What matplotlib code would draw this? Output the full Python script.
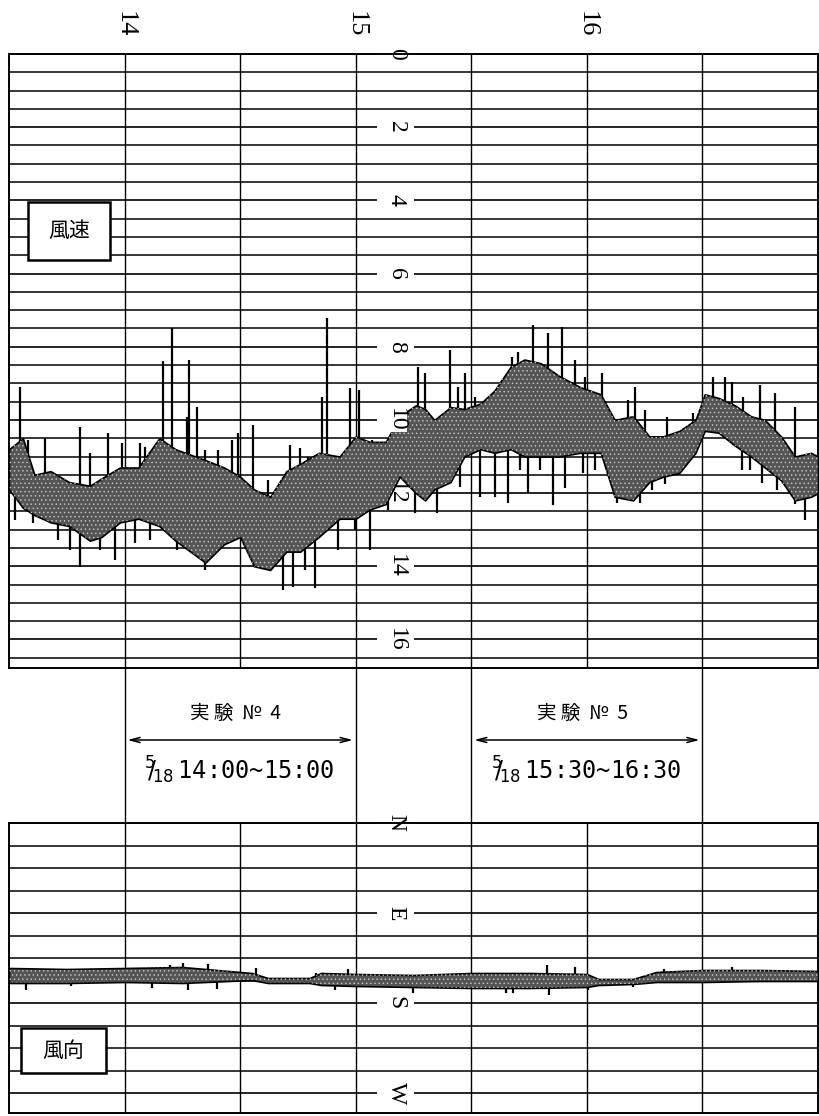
import matplotlib
matplotlib.use("Agg")
import matplotlib.pyplot as plt
import numpy as np
from matplotlib import transforms
from matplotlib.patches import Rectangle

# ---------------- data ----------------
hour_ticks = [14, 15, 16]
grid_times = [14.0, 14.5, 15.0, 15.5, 16.0, 16.5]
through_times = [14.0, 15.0, 15.5, 16.5]

speed_label_values = [0, 2, 4, 6, 8, 10, 12, 14, 16]
speed_label_texts = ["0", "2", "4", "6", "8", "10", "12", "14", "16"]
speed_grid_step = 0.5

dir_label_values = [0, 90, 180, 270]
dir_label_texts = ["N", "E", "S", "W"]
dir_grid_step = 22.5

# wind speed band (time in hours, m/s)
speed_t = [13.50, 13.56, 13.61, 13.68, 13.76, 13.85, 13.90, 13.98, 14.06, 14.15,
           14.22, 14.35, 14.43, 14.50, 14.56, 14.63, 14.70, 14.76, 14.84, 14.93,
           15.00, 15.06, 15.13, 15.19, 15.26, 15.30, 15.34, 15.41, 15.47, 15.54,
           15.60, 15.67, 15.73, 15.80, 15.88, 15.97, 16.06, 16.12, 16.20, 16.27,
           16.33, 16.40, 16.47, 16.51, 16.57, 16.64, 16.71, 16.77, 16.84, 16.90,
           16.97, 17.00]
speed_upper = [10.8, 10.5, 11.5, 11.4, 11.7, 11.8, 11.6, 11.3, 11.3, 10.5,
               10.8, 11.1, 11.3, 11.55, 11.9, 12.1, 11.4, 11.2, 10.9, 11.0,
               10.45, 10.6, 10.6, 9.9, 9.6, 9.7, 10.0, 9.65, 9.7, 9.55,
               9.2, 8.55, 8.35, 8.45, 8.8, 9.1, 9.3, 10.0, 9.9, 10.45,
               10.45, 10.3, 10.0, 9.3, 9.4, 9.6, 9.9, 10.0, 10.45, 11.0,
               10.9, 11.0]
speed_lower = [11.9, 12.4, 12.6, 12.8, 12.9, 13.3, 13.2, 12.8, 12.7, 12.9,
               13.3, 13.9, 13.4, 13.2, 14.0, 14.1, 13.6, 13.6, 13.2, 12.7,
               12.7, 12.45, 12.3, 11.55, 12.0, 12.2, 11.9, 11.7, 11.0, 10.8,
               10.9, 10.8, 11.0, 11.0, 11.0, 10.9, 10.9, 12.1, 12.2, 11.7,
               11.55, 11.45, 10.9, 10.3, 10.35, 10.7, 11.0, 11.3, 11.65, 12.2,
               12.1, 12.0]
spike_up_t = [13.548, 13.582, 13.656, 13.807, 13.850, 13.928, 13.989, 14.067, 14.088, 14.165,
              14.205, 14.270, 14.280, 14.314, 14.348, 14.404, 14.465, 14.491, 14.556, 14.621,
              14.716, 14.759, 14.794, 14.854, 14.876, 14.976, 15.015, 15.071, 15.214, 15.268,
              15.298, 15.408, 15.443, 15.473, 15.516, 15.633, 15.676, 15.703, 15.767, 15.832,
              15.893, 15.949, 15.993, 16.066, 16.178, 16.209, 16.252, 16.347, 16.382, 16.460,
              16.546, 16.598, 16.628, 16.676, 16.750, 16.815, 16.901]
spike_up_v = [9.10, 10.55, 10.49, 10.19, 10.90, 10.36, 10.63, 10.63, 10.74, 8.40,
              7.50, 9.92, 8.35, 9.64, 10.82, 10.82, 10.55, 10.36, 10.14, 11.64,
              10.68, 10.77, 11.01, 9.37, 7.21, 9.13, 9.18, 10.55, 9.64, 8.55,
              8.72, 8.09, 9.10, 8.72, 9.37, 8.91, 8.28, 8.14, 7.40, 7.62,
              7.46, 8.36, 8.83, 8.72, 9.45, 9.10, 9.73, 9.92, 10.36, 9.81,
              8.83, 8.83, 8.96, 9.37, 9.04, 9.26, 9.64]
spike_dn_t = [13.526, 13.604, 13.712, 13.764, 13.807, 13.894, 13.959, 14.045, 14.110, 14.227,
              14.348, 14.577, 14.686, 14.729, 14.781, 14.824, 14.924, 14.997, 15.062, 15.140,
              15.255, 15.350, 15.452, 15.538, 15.603, 15.659, 15.711, 15.746, 15.798, 15.854,
              15.906, 15.984, 16.036, 16.131, 16.230, 16.282, 16.339, 16.672, 16.706, 16.758,
              16.823, 16.901, 16.944]
spike_dn_v = [12.73, 12.81, 13.28, 13.55, 14.02, 13.55, 13.83, 13.36, 13.28, 13.55,
              14.10, 14.02, 14.64, 14.56, 14.10, 14.59, 13.55, 13.01, 13.55, 12.46,
              12.54, 12.54, 11.83, 12.10, 12.10, 12.27, 11.37, 11.99, 11.37, 12.32,
              11.85, 11.45, 11.37, 12.27, 12.27, 11.91, 11.75, 11.37, 11.37, 11.72,
              11.91, 12.30, 12.73]

# wind direction band (degrees, N=0, E=90, S=180, W=270)
dir_t = [13.50, 13.75, 14.00, 14.25, 14.45, 14.55, 14.62, 14.80, 14.85, 15.00,
         15.25, 15.50, 15.75, 16.00, 16.05, 16.20, 16.30, 16.50, 16.75, 17.00]
dir_upper = [145, 146, 145, 144, 148, 150, 155, 155, 150, 151,
             152, 150, 150, 151, 156, 156, 149, 147, 147, 148]
dir_lower = [160, 160, 159, 160, 158, 157, 160, 160, 162, 163,
             164, 165, 165, 164, 162, 161, 159, 159, 158, 158]
dir_spike_up_t = [14.197, 14.253, 14.360, 14.569, 14.828, 14.967, 15.828, 15.950, 16.334, 16.628]
dir_spike_up_v = [142, 140, 141, 145, 150, 146, 142, 144, 146, 144]
dir_spike_dn_t = [13.574, 13.768, 14.119, 14.275, 14.400, 14.911, 15.248, 15.650, 15.681, 15.837,
                  16.005, 16.200]
dir_spike_dn_v = [167, 163, 165, 167, 166, 167, 170, 170, 170, 172,
                  167, 164]

exp_titles = ["実 験  №  4", "実 験  №  5"]
exp_start = [14.0, 15.5]
exp_end = [15.0, 16.5]
exp_date = r"$^{5}\!\!/\!_{18}\,$"
exp_times = ["14:00~15:00", "15:30~16:30"]

# ---------------- figure ----------------
W, H = 820, 1116
fig = plt.figure(figsize=(W / 100, H / 100), dpi=100)
plt.rcParams["hatch.linewidth"] = 0.5


def px_box(x0, y0, x1, y1):
    return [x0 / W, 1 - y1 / H, (x1 - x0) / W, (y1 - y0) / H]


ax1 = fig.add_axes(px_box(9, 54, 818, 668))
ax2 = fig.add_axes(px_box(9, 823, 818, 1113))
XMIN, XMAX = 13.5, 17.0
ax1.set_xlim(XMIN, XMAX)
ax1.set_ylim(16.78, 0)
ax2.set_xlim(XMIN, XMAX)
ax2.set_ylim(290, 0)

GAP_L, GAP_R, LABEL_X = 15.09, 15.25, 15.175
serif = "Liberation Serif"
cjk = ["Noto Sans CJK JP", "DejaVu Sans"]

for ax, ymax, step, lab_vals, lab_txt in [
    (ax1, 16.5, speed_grid_step, speed_label_values, speed_label_texts),
    (ax2, 270, dir_grid_step, dir_label_values, dir_label_texts),
]:
    for s in ax.spines.values():
        s.set_linewidth(1.4)
    ax.set_xticks([])
    ax.set_yticks([])
    levels = np.arange(0, ymax + step / 2, step)
    for lv in levels:
        if any(abs(lv - v) < 1e-6 for v in lab_vals):
            ax.hlines(lv, XMIN, GAP_L, color="black", lw=1.2, zorder=1)
            ax.hlines(lv, GAP_R, XMAX, color="black", lw=1.2, zorder=1)
        else:
            ax.hlines(lv, XMIN, XMAX, color="black", lw=1.1, zorder=1)
    for gt in grid_times:
        ax.axvline(gt, color="black", lw=1.0, zorder=1)
    for v, t in zip(lab_vals, lab_txt):
        kw = {}
        z = 3
        if t == "10":
            kw = dict(bbox=dict(facecolor="white", edgecolor="none", pad=0.5))
            z = 7
        ax.text(LABEL_X, v, t, rotation=270, ha="center", va="center",
                fontsize=17, family=serif, zorder=z, **kw)

# hour labels on top
tr_top = transforms.blended_transform_factory(ax1.transData, fig.transFigure)
for h in hour_ticks:
    ax1.text(h, 1 - 24 / H, str(h), rotation=270, ha="center", va="center",
             fontsize=19, family=serif, transform=tr_top)

# vertical lines through the gap between panels
for t in through_times:
    ax1.plot([t, t], [1 - 668 / H, 1 - 823 / H], color="black", lw=1.0,
             transform=tr_top, clip_on=False)


# ---------------- traces ----------------
def draw_band(ax, t, up, lo, sut, suv, sdt, sdv):
    t = np.asarray(t)
    up = np.asarray(up, float)
    lo = np.asarray(lo, float)
    ax.fill_between(t, up, lo, facecolor="#555555", edgecolor="black",
                    lw=1.2, zorder=4)
    ax.fill_between(t, up, lo, facecolor="none", edgecolor="#c8c8c8",
                    hatch="....", lw=0, zorder=4.5)
    mid = (up + lo) / 2
    ax.vlines(sut, suv, np.interp(sut, t, mid), color="black", lw=1.6, zorder=3.5)
    ax.vlines(sdt, np.interp(sdt, t, mid), sdv, color="black", lw=1.6, zorder=3.5)


draw_band(ax1, speed_t, speed_upper, speed_lower,
          spike_up_t, spike_up_v, spike_dn_t, spike_dn_v)
draw_band(ax2, dir_t, dir_upper, dir_lower,
          dir_spike_up_t, dir_spike_up_v, dir_spike_dn_t, dir_spike_dn_v)

# ---------------- label boxes ----------------
ax1.add_patch(Rectangle((13.584, 4.04), 13.939 - 13.584, 5.63 - 4.04,
                        facecolor="white", edgecolor="black", lw=1.8, zorder=6))
ax1.text((13.584 + 13.939) / 2, (4.04 + 5.63) / 2, "風速", ha="center",
         va="center", fontsize=15, family=cjk, zorder=7)
ax2.add_patch(Rectangle((13.554, 205), 13.918 - 13.554, 45,
                        facecolor="white", edgecolor="black", lw=1.8, zorder=6))
ax2.text((13.554 + 13.918) / 2, 227.5, "風向", ha="center", va="center",
         fontsize=15, family=cjk, zorder=7)

# ---------------- experiment annotations ----------------
for title, t0, t1, tt in zip(exp_titles, exp_start, exp_end, exp_times):
    ax1.text((t0 + t1) / 2 - 0.02, 1 - 713 / H, title, ha="center", va="center",
             fontsize=14, family=cjk, transform=tr_top)
    ax1.annotate("", xy=(t1, 1 - 740 / H), xytext=(t0, 1 - 740 / H),
                 xycoords=tr_top, textcoords=tr_top,
                 arrowprops=dict(arrowstyle="<->,head_length=0.7,head_width=0.18",
                                 lw=1.1, color="black"))
    ax1.text(t0 + 0.085, 1 - 770 / H, exp_date + tt, ha="left", va="center",
             fontsize=17, family="DejaVu Sans Mono", transform=tr_top)

fig.savefig("out.png", dpi=100)
